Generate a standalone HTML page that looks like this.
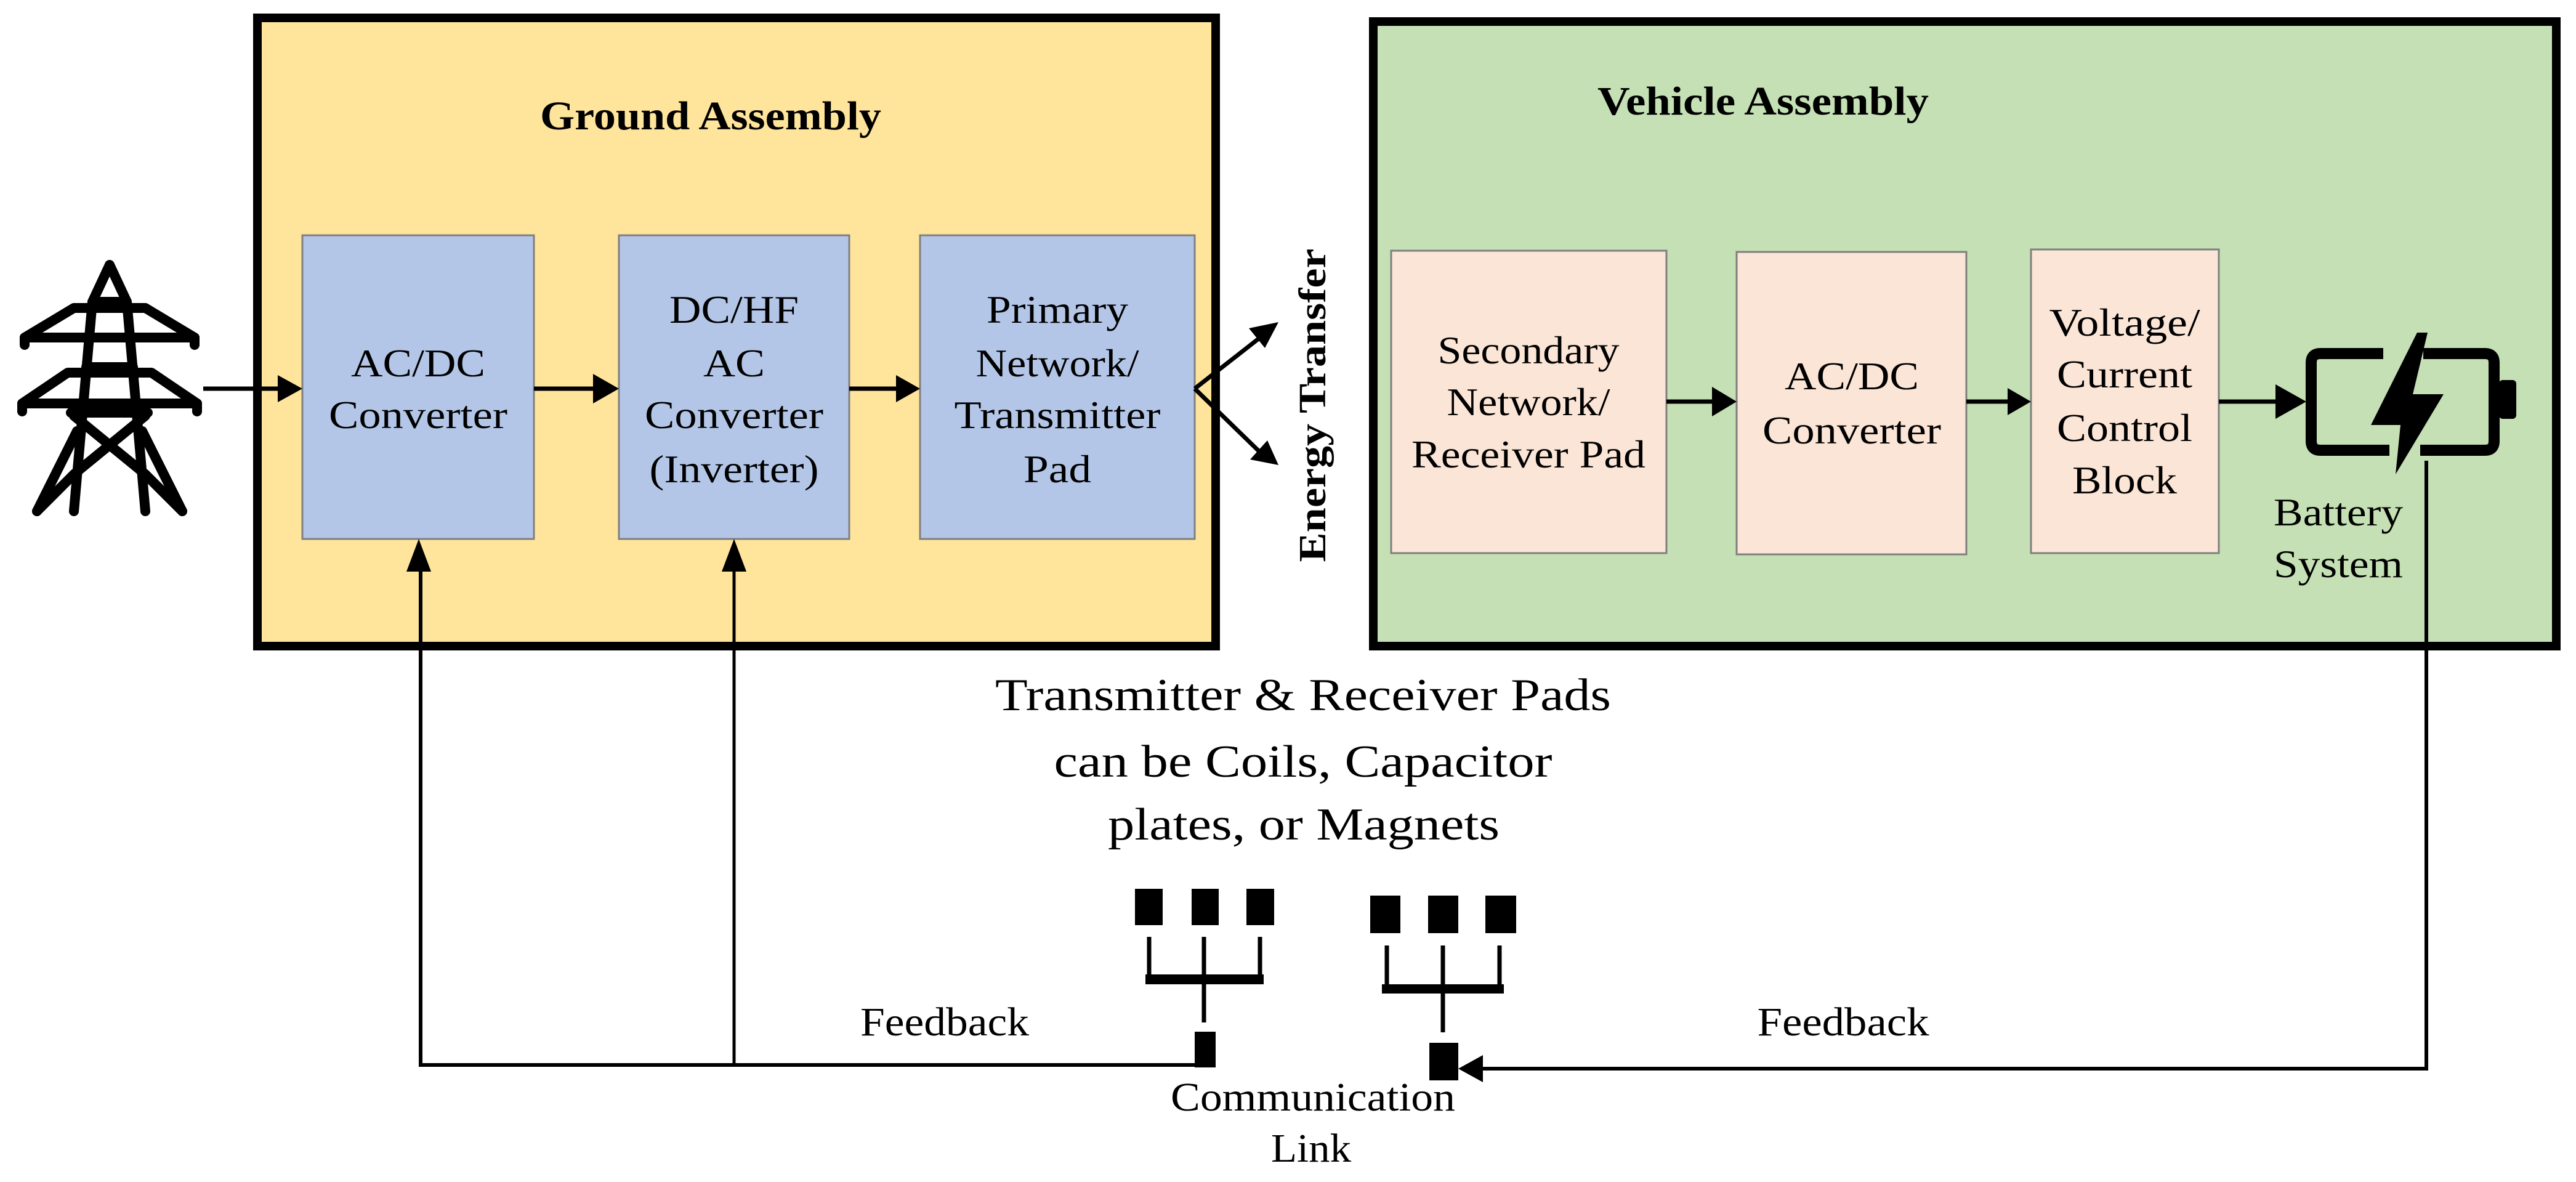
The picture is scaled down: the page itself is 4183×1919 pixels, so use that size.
<!DOCTYPE html>
<html><head><meta charset="utf-8"><style>
html,body{margin:0;padding:0;background:#fff;}
svg{display:block;font-family:"Liberation Serif","Times New Roman",Times,serif;}
</style></head><body>
<svg width="4183" height="1919" viewBox="0 0 4183 1919" xmlns="http://www.w3.org/2000/svg" font-family="Liberation Serif, Times New Roman, serif">
<!-- Ground assembly -->
<rect x="418" y="29" width="1556" height="1020" fill="#ffe49b" stroke="#000" stroke-width="14"/>
<text x="1154" y="210" font-size="66" font-weight="bold" text-anchor="middle" textLength="554" lengthAdjust="spacingAndGlyphs">Ground Assembly</text>
<g fill="#b4c6e7" stroke="#7f7f7f" stroke-width="3">
<rect x="491" y="382" width="376" height="493"/>
<rect x="1005" y="382" width="374" height="493"/>
<rect x="1494" y="382" width="446" height="493"/>
</g>
<g font-size="64" text-anchor="middle" lengthAdjust="spacingAndGlyphs">
<text x="679" y="611" textLength="218" lengthAdjust="spacingAndGlyphs">AC/DC</text>
<text x="679" y="695" textLength="290" lengthAdjust="spacingAndGlyphs">Converter</text>
<text x="1192" y="524" textLength="210" lengthAdjust="spacingAndGlyphs">DC/HF</text>
<text x="1192" y="611" textLength="100" lengthAdjust="spacingAndGlyphs">AC</text>
<text x="1192" y="695" textLength="290" lengthAdjust="spacingAndGlyphs">Converter</text>
<text x="1192" y="783" textLength="275" lengthAdjust="spacingAndGlyphs">(Inverter)</text>
<text x="1717" y="524" textLength="230" lengthAdjust="spacingAndGlyphs">Primary</text>
<text x="1717" y="611" textLength="265" lengthAdjust="spacingAndGlyphs">Network/</text>
<text x="1717" y="695" textLength="335" lengthAdjust="spacingAndGlyphs">Transmitter</text>
<text x="1717" y="783" textLength="110" lengthAdjust="spacingAndGlyphs">Pad</text>
</g>
<!-- Vehicle assembly -->
<rect x="2230" y="35" width="1921" height="1014" fill="#c5e0b4" stroke="#000" stroke-width="14"/>
<text x="2863" y="186" font-size="66" font-weight="bold" text-anchor="middle" textLength="538" lengthAdjust="spacingAndGlyphs">Vehicle Assembly</text>
<g fill="#fbe5d6" stroke="#7f7f7f" stroke-width="3">
<rect x="2259" y="407" width="447" height="491"/>
<rect x="2820" y="409" width="373" height="491"/>
<rect x="3298" y="405" width="305" height="493"/>
</g>
<g font-size="64" text-anchor="middle">
<text x="2482" y="590" textLength="295" lengthAdjust="spacingAndGlyphs">Secondary</text>
<text x="2482" y="674" textLength="265" lengthAdjust="spacingAndGlyphs">Network/</text>
<text x="2482" y="759" textLength="380" lengthAdjust="spacingAndGlyphs">Receiver Pad</text>
<text x="3007" y="632" textLength="218" lengthAdjust="spacingAndGlyphs">AC/DC</text>
<text x="3007" y="720" textLength="290" lengthAdjust="spacingAndGlyphs">Converter</text>
<text x="3450" y="545" textLength="245" lengthAdjust="spacingAndGlyphs">Voltage/</text>
<text x="3450" y="629" textLength="220" lengthAdjust="spacingAndGlyphs">Current</text>
<text x="3450" y="716" textLength="220" lengthAdjust="spacingAndGlyphs">Control</text>
<text x="3450" y="801" textLength="170" lengthAdjust="spacingAndGlyphs">Block</text>
<text x="3797" y="853" textLength="210" lengthAdjust="spacingAndGlyphs">Battery</text>
<text x="3797" y="937" textLength="210" lengthAdjust="spacingAndGlyphs">System</text>
</g>
<!-- Tower -->
<g fill="none" stroke="#000" stroke-width="16" stroke-linejoin="round" stroke-linecap="round">
<path d="M178,430 L150,490 L120,830 M178,430 L206,490 L236,830"/>
<path d="M150,490 L206,490"/>
<path d="M40,548 L120,500 L236,500 L316,548 Z"/>
<path d="M40,548 L40,560 M316,548 L316,560"/>
<path d="M140,596 L216,596"/>
<path d="M36,655 L110,605 L246,605 L320,655 Z"/>
<path d="M36,655 L36,668 M320,655 L320,668"/>
<path d="M115,670 L240,670"/>
<path d="M120,675 L236,770 M236,675 L120,770"/>
<path d="M125,700 L60,830 M231,700 L296,830"/>
<path d="M120,770 L60,830 M236,770 L296,830"/>
</g>
<!-- horizontal arrows -->
<g stroke="#000" stroke-width="7" fill="none">
<line x1="330" y1="631" x2="460" y2="631"/>
<line x1="867" y1="631" x2="975" y2="631"/>
<line x1="1379" y1="631" x2="1464" y2="631"/>
<line x1="2706" y1="652" x2="2790" y2="652"/>
<line x1="3193" y1="652" x2="3268" y2="652"/>
<line x1="3603" y1="652" x2="3705" y2="652"/>
<line x1="1940" y1="631" x2="2050" y2="545"/>
<line x1="1940" y1="631" x2="2050" y2="738"/>
</g>
<g fill="#000">
<polygon points="491,631 451,609 451,653"/>
<polygon points="1005,631 963,607 963,655"/>
<polygon points="1494,631 1455,609 1455,653"/>
<polygon points="2820,652 2780,628 2780,676"/>
<polygon points="3298,652 3260,630 3260,674"/>
<polygon points="3745,652 3695,624 3695,680"/>
<polygon points="2076,523 2028,533 2054,565"/>
<polygon points="2076,755 2030,746 2058,715"/>
</g>
<text transform="translate(2152,658) rotate(-90)" font-size="62" font-weight="bold" text-anchor="middle" textLength="509" lengthAdjust="spacingAndGlyphs">Energy Transfer</text>
<!-- battery -->
<g fill="none" stroke="#000" stroke-width="18" stroke-linejoin="round">
<path d="M3870,574 L3768,574 Q3753,574 3753,589 L3753,716 Q3753,731 3768,731 L3880,731"/>
<path d="M3935,574 L4035,574 Q4050,574 4050,589 L4050,716 Q4050,731 4035,731 L3930,731"/>
</g>
<rect x="4058" y="617" width="28" height="63" rx="6" fill="#000"/>
<polygon points="3925,540 3850,690 3898,690 3890,770 3968,640 3918,640 3942,540" fill="#000"/>
<!-- feedback lines -->
<g stroke="#000" fill="none">
<polyline points="683,926 683,1729 1940,1729" stroke-width="6"/>
<line x1="1192" y1="926" x2="1192" y2="1729" stroke-width="5"/>
<polyline points="3940,748 3940,1735 2400,1735" stroke-width="6"/>
</g>
<g fill="#000">
<polygon points="680,875 660,928 700,928"/>
<polygon points="1192,875 1172,928 1212,928"/>
<polygon points="2368,1735 2408,1713 2408,1757"/>
</g>
<!-- antennas -->
<g fill="#000">
<rect x="1843" y="1443" width="45" height="59"/>
<rect x="1935" y="1443" width="44" height="59"/>
<rect x="2024" y="1443" width="45" height="59"/>
<rect x="1940" y="1675" width="34" height="58"/>
<rect x="2225" y="1454" width="49" height="61"/>
<rect x="2319" y="1454" width="49" height="61"/>
<rect x="2412" y="1454" width="50" height="61"/>
<rect x="2321" y="1693" width="47" height="61"/>
<rect x="1860" y="1582" width="192" height="16"/>
<rect x="2244" y="1598" width="198" height="15"/>
</g>
<g stroke="#000" stroke-width="7" fill="none">
<path d="M1866,1521 V1590 M1955,1521 V1590 M2046,1521 V1590 M1955,1598 V1660"/>
<path d="M2252,1535 V1605 M2343,1535 V1605 M2435,1535 V1605 M2343,1612 V1676"/>
</g>
<!-- texts -->
<g font-size="74" text-anchor="middle">
<text x="2116" y="1153" textLength="1000" lengthAdjust="spacingAndGlyphs">Transmitter &amp; Receiver Pads</text>
<text x="2116" y="1261" textLength="809" lengthAdjust="spacingAndGlyphs">can be Coils, Capacitor</text>
<text x="2117" y="1363" textLength="636" lengthAdjust="spacingAndGlyphs">plates, or Magnets</text>
</g>
<g font-size="66" text-anchor="middle">
<text x="1534" y="1681" textLength="274" lengthAdjust="spacingAndGlyphs">Feedback</text>
<text x="2993" y="1681" textLength="279" lengthAdjust="spacingAndGlyphs">Feedback</text>
<text x="2132" y="1803" textLength="462" lengthAdjust="spacingAndGlyphs">Communication</text>
<text x="2129" y="1886" textLength="130" lengthAdjust="spacingAndGlyphs">Link</text>
</g>
</svg>
</body></html>
